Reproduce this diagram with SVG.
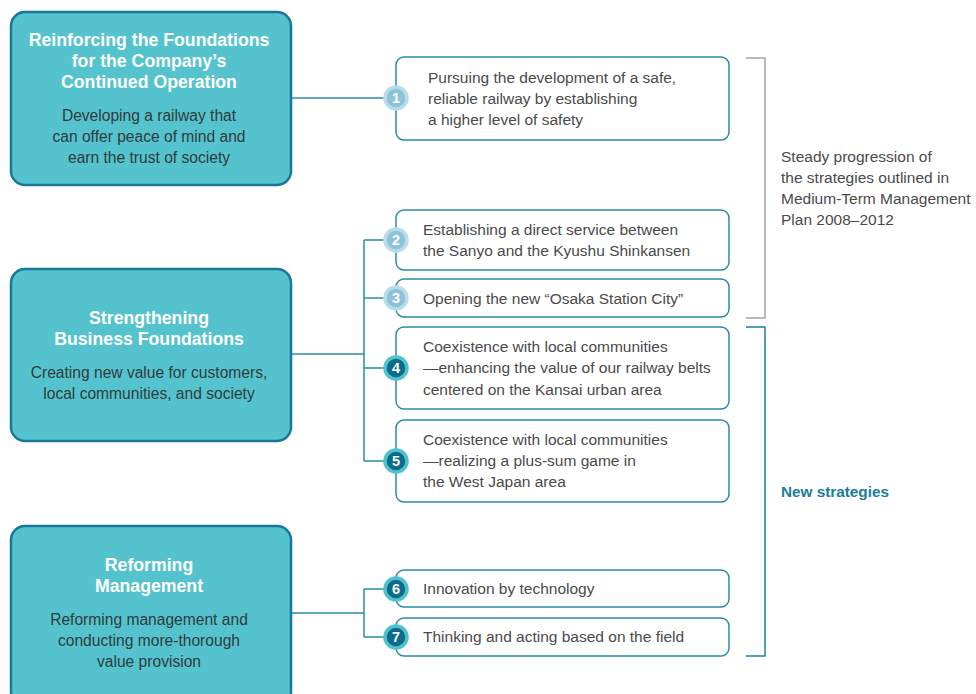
<svg xmlns="http://www.w3.org/2000/svg" width="976" height="694" viewBox="0 0 976 694">
  <style>
    .pillar { fill: #55c3cd; stroke: #17799a; stroke-width: 2.5; }
    .ptitle { font-family: "Liberation Sans", Arial, sans-serif; font-size: 17.7px; font-weight: bold; fill: #ffffff; text-anchor: middle; }
    .psub { font-family: "Liberation Sans", Arial, sans-serif; font-size: 15.6px; fill: #2f3b3e; text-anchor: middle; }
    .item { fill: #ffffff; stroke: #2a8aa8; stroke-width: 1.5; }
    .itext { font-family: "Liberation Sans", Arial, sans-serif; font-size: 15.5px; fill: #4a4a4a; }
    .conn { fill: none; stroke: #2a8aa8; stroke-width: 1.5; }
    .badge-old { fill: #8ec3d7; stroke: #b9dde8; stroke-width: 3.5; }
    .badge-new { fill: #0b6c8a; stroke: #4fc2cc; stroke-width: 3.5; }
    .num { font-family: "Liberation Sans", Arial, sans-serif; font-size: 14.5px; font-weight: bold; fill: #ffffff; text-anchor: middle; }
    .note { font-family: "Liberation Sans", Arial, sans-serif; font-size: 15.5px; fill: #4a4a4a; }
    .newnote { font-family: "Liberation Sans", Arial, sans-serif; font-size: 15.3px; font-weight: bold; fill: #1a7d9c; }
  </style>

  <!-- connectors -->
  <g id="connectors">
    <path class="conn" d="M291 98 H385"/>
    <path class="conn" d="M291 354 H364 M364 240 V461 M364 240 H385 M364 298 H385 M364 368 H385 M364 461 H385"/>
    <path class="conn" d="M291 613 H364 M364 589 V637 M364 589 H385 M364 637 H385"/>
  </g>

  <!-- pillars -->
  <g id="pillar-foundations">
    <rect class="pillar" x="11" y="12" width="280" height="173" rx="14"/>
    <text class="ptitle" x="149" y="46">Reinforcing the Foundations</text>
    <text class="ptitle" x="149" y="67">for the Company’s</text>
    <text class="ptitle" x="149" y="88">Continued Operation</text>
    <text class="psub" x="149" y="121">Developing a railway that</text>
    <text class="psub" x="149" y="142">can offer peace of mind and</text>
    <text class="psub" x="149" y="163">earn the trust of society</text>
  </g>
  <g id="pillar-business">
    <rect class="pillar" x="11" y="269" width="280" height="172" rx="14"/>
    <text class="ptitle" x="149" y="324">Strengthening</text>
    <text class="ptitle" x="149" y="345">Business Foundations</text>
    <text class="psub" x="149" y="378">Creating new value for customers,</text>
    <text class="psub" x="149" y="399">local communities, and society</text>
  </g>
  <g id="pillar-management">
    <rect class="pillar" x="11" y="526" width="280" height="180" rx="14"/>
    <text class="ptitle" x="149" y="571">Reforming</text>
    <text class="ptitle" x="149" y="592">Management</text>
    <text class="psub" x="149" y="625">Reforming management and</text>
    <text class="psub" x="149" y="646">conducting more-thorough</text>
    <text class="psub" x="149" y="667">value provision</text>
  </g>

  <!-- strategy items -->
  <g id="item-1">
    <rect class="item" x="396" y="57" width="333" height="83" rx="8"/>
    <text class="itext" x="428" y="83">Pursuing the development of a safe,</text>
    <text class="itext" x="428" y="104">reliable railway by establishing</text>
    <text class="itext" x="428" y="125">a higher level of safety</text>
    <circle class="badge-old" cx="396" cy="98" r="11"/>
    <text class="num" x="396" y="103">1</text>
  </g>
  <g id="item-2">
    <rect class="item" x="396" y="210" width="333" height="60" rx="8"/>
    <text class="itext" x="423" y="235">Establishing a direct service between</text>
    <text class="itext" x="423" y="256">the Sanyo and the Kyushu Shinkansen</text>
    <circle class="badge-old" cx="396" cy="240" r="11"/>
    <text class="num" x="396" y="245">2</text>
  </g>
  <g id="item-3">
    <rect class="item" x="396" y="279" width="333" height="38" rx="8"/>
    <text class="itext" x="423" y="304">Opening the new “Osaka Station City”</text>
    <circle class="badge-old" cx="396" cy="298" r="11"/>
    <text class="num" x="396" y="303">3</text>
  </g>
  <g id="item-4">
    <rect class="item" x="396" y="327" width="333" height="82" rx="8"/>
    <text class="itext" x="423" y="352">Coexistence with local communities</text>
    <text class="itext" x="423" y="373">—enhancing the value of our railway belts</text>
    <text class="itext" x="423" y="395">centered on the Kansai urban area</text>
    <circle class="badge-new" cx="396" cy="368" r="11"/>
    <text class="num" x="396" y="373">4</text>
  </g>
  <g id="item-5">
    <rect class="item" x="396" y="420" width="333" height="82" rx="8"/>
    <text class="itext" x="423" y="445">Coexistence with local communities</text>
    <text class="itext" x="423" y="466">—realizing a plus-sum game in</text>
    <text class="itext" x="423" y="487">the West Japan area</text>
    <circle class="badge-new" cx="396" cy="461" r="11"/>
    <text class="num" x="396" y="466">5</text>
  </g>
  <g id="item-6">
    <rect class="item" x="396" y="570" width="333" height="37" rx="8"/>
    <text class="itext" x="423" y="594">Innovation by technology</text>
    <circle class="badge-new" cx="396" cy="589" r="11"/>
    <text class="num" x="396" y="594">6</text>
  </g>
  <g id="item-7">
    <rect class="item" x="396" y="618" width="333" height="38" rx="8"/>
    <text class="itext" x="423" y="642">Thinking and acting based on the field</text>
    <circle class="badge-new" cx="396" cy="637" r="11"/>
    <text class="num" x="396" y="642">7</text>
  </g>

  <!-- brackets and notes -->
  <g id="bracket-continuing">
    <path d="M746 58 H765 V318 H746" fill="none" stroke="#a3a3a3" stroke-width="1.5"/>
    <text class="note" x="781" y="162">Steady progression of</text>
    <text class="note" x="781" y="183">the strategies outlined in</text>
    <text class="note" x="781" y="204">Medium-Term Management</text>
    <text class="note" x="781" y="225">Plan 2008–2012</text>
  </g>
  <g id="bracket-new">
    <path d="M746 327 H765 V656 H746" fill="none" stroke="#1f7f9e" stroke-width="1.5"/>
    <text class="newnote" x="781" y="497">New strategies</text>
  </g>
</svg>
